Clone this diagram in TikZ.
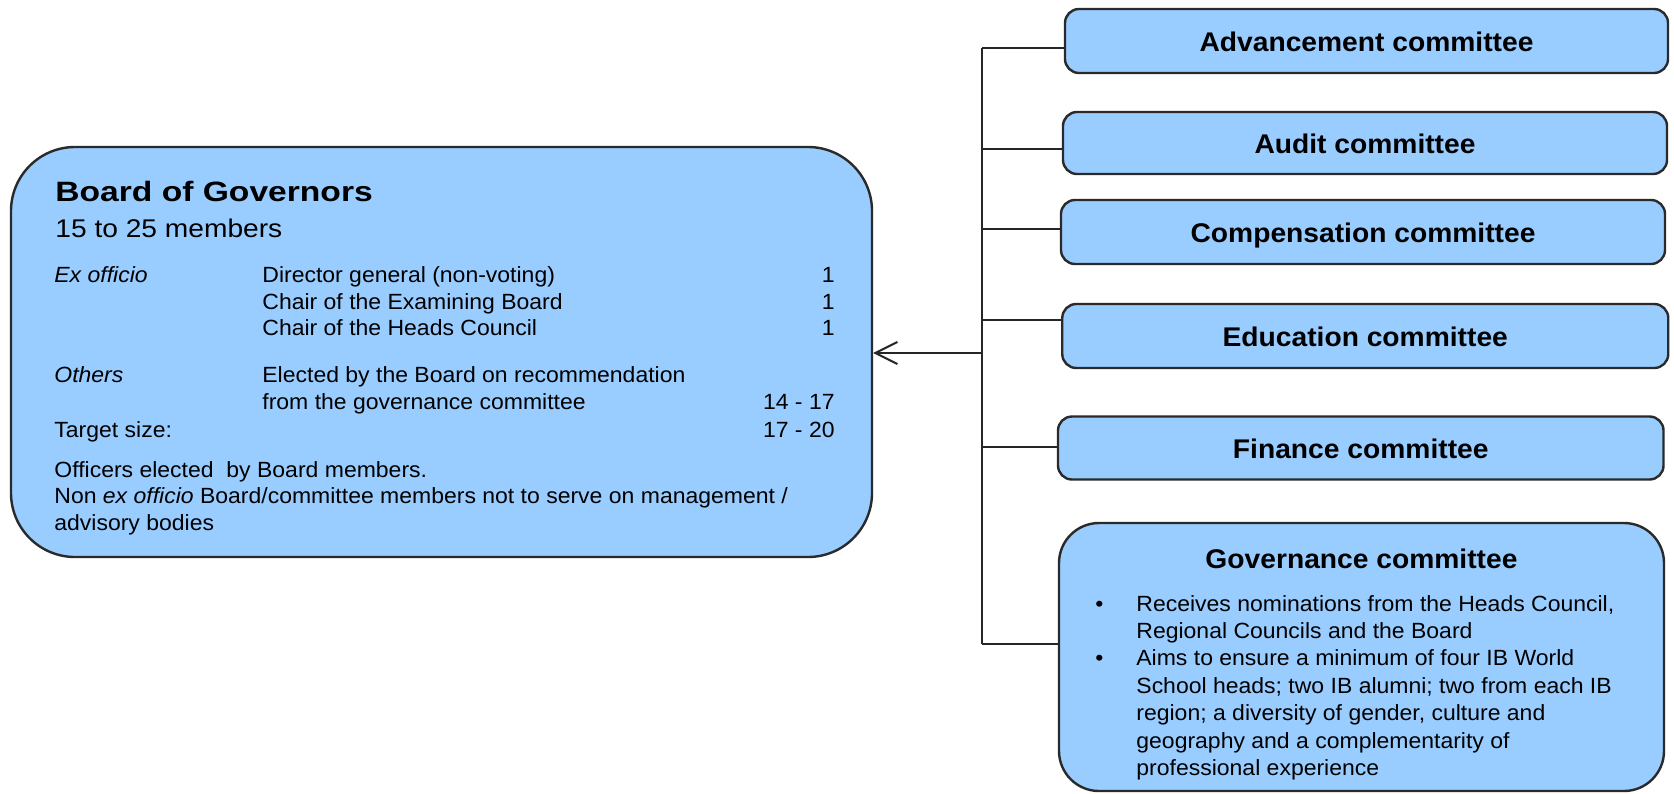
\documentclass[tikz,border=0pt]{standalone}
\usepackage{fontspec}
\setmainfont{Liberation Sans}[FakeStretch=1.045]
\newfontfamily\bogfont{Liberation Sans}[FakeStretch=1.2]
\newfontfamily\bogsubfont{Liberation Sans}[FakeStretch=1.1]
\usetikzlibrary{arrows.meta}
\definecolor{boxblue}{HTML}{99CCFF}
\definecolor{edgegray}{HTML}{2A2A2A}

\begin{document}
\begin{tikzpicture}[x=0.5pt,y=-0.5pt,
  box/.style={draw=edgegray, line width=1.2pt, fill=boxblue, inner sep=0pt},
  committee/.style={box, rounded corners=7pt,
    font=\fontsize{13.5}{16}\selectfont\bfseries, text height=10pt, text depth=0pt},
  bodytext/.style={inner sep=0pt, anchor=base west, font=\fontsize{11}{13.7}\selectfont},
  numtext/.style={inner sep=0pt, anchor=base east, font=\fontsize{11}{13.7}\selectfont},
  link/.style={draw=black!85, line width=1pt},
  feeds/.style={link, -{Straight Barb[length=11pt,width=11pt,line width=1pt]}}
]
\useasboundingbox (0,0) rectangle (1674,793);

% Board of Governors
\node[box, rounded corners=32pt, minimum width=430.5pt, minimum height=205pt] (bog) at (441.5,352) {};
\node[inner sep=0pt, anchor=base west, font=\bogfont\fontsize{14}{17}\selectfont\bfseries] (bogTitle) at (55,201) {Board of Governors};
\node[inner sep=0pt, anchor=base west, font=\bogsubfont\fontsize{12.8}{15}\selectfont] (bogSize) at (55,237) {15 to 25 members};

\node[bodytext] (exLabel) at (54,282) {\itshape Ex officio};
\node[bodytext] (exA) at (262,282) {Director general (non-voting)};
\node[numtext]  (exAn) at (835,282) {1};
\node[bodytext] (exB) at (262,309) {Chair of the Examining Board};
\node[numtext]  (exBn) at (835,309) {1};
\node[bodytext] (exC) at (262,335) {Chair of the Heads Council};
\node[numtext]  (exCn) at (835,335) {1};

\node[bodytext] (othLabel) at (54,382) {\itshape Others};
\node[bodytext] (othA) at (262,382) {Elected by the Board on recommendation};
\node[bodytext] (othB) at (262,409) {from the governance committee};
\node[numtext]  (othN) at (835,409) {14 - 17};
\node[bodytext] (target) at (54,437) {Target size:};
\node[numtext]  (targetN) at (835,437) {17 - 20};

\node[bodytext] (noteA) at (54,477) {Officers elected\ \ by Board members.};
\node[bodytext] (noteB) at (54,503) {Non \textit{ex officio} Board/committee members not to serve on management /};
\node[bodytext] (noteC) at (54,530) {advisory bodies};

% Committees
\node[committee, minimum width=301.5pt, minimum height=32pt] (adv)  at (1366.5,41)  {Advancement committee};
\node[committee, minimum width=302pt,   minimum height=31pt] (aud)  at (1365,143)   {Audit committee};
\node[committee, minimum width=302pt,   minimum height=32pt] (comp) at (1363,232)   {Compensation committee};
\node[committee, minimum width=303pt,   minimum height=32pt] (edu)  at (1365.25,336) {Education committee};
\node[committee, minimum width=302.75pt,minimum height=31.5pt] (fin) at (1360.75,448) {Finance committee};

% Governance committee
\node[box, rounded corners=20pt, minimum width=302.5pt, minimum height=134pt] (gov) at (1361.5,657) {};
\node[inner sep=0pt, anchor=base, font=\fontsize{13.5}{16}\selectfont\bfseries] (govTitle) at (1361.5,568) {Governance committee};
\node[inner sep=0pt, anchor=base west, font=\fontsize{11}{13.7}\selectfont] (govList) at (1095,611) {%
  \begin{tabular}[t]{@{}p{20.5pt}@{}l@{}}
  \textbullet & Receives nominations from the Heads Council,\\
              & Regional Councils and the Board\\
  \textbullet & Aims to ensure a minimum of four IB World\\
              & School heads; two IB alumni; two from each IB\\
              & region; a diversity of gender, culture and\\
              & geography and a complementarity of\\
              & professional experience
  \end{tabular}};

% Reporting lines
\coordinate (jAdv)   at (982,48);
\coordinate (jAud)   at (982,149);
\coordinate (jComp)  at (982,229);
\coordinate (jBoard) at (982,353);
\coordinate (jEdu)   at (982,320);
\coordinate (jFin)   at (982,447);
\coordinate (jGov)   at (982,644);

\draw[link] (jAdv) -- (jGov);
\draw[link] (jAdv)  -- (jAdv -| adv.west);
\draw[link] (jAud)  -- (jAud -| aud.west);
\draw[link] (jComp) -- (jComp -| comp.west);
\draw[link] (jEdu)  -- (jEdu -| edu.west);
\draw[link] (jFin)  -- (jFin -| fin.west);
\draw[link] (jGov)  -- (jGov -| gov.west);
\draw[feeds] (jBoard) -- (jBoard -| bog.east);
\end{tikzpicture}
\end{document}
